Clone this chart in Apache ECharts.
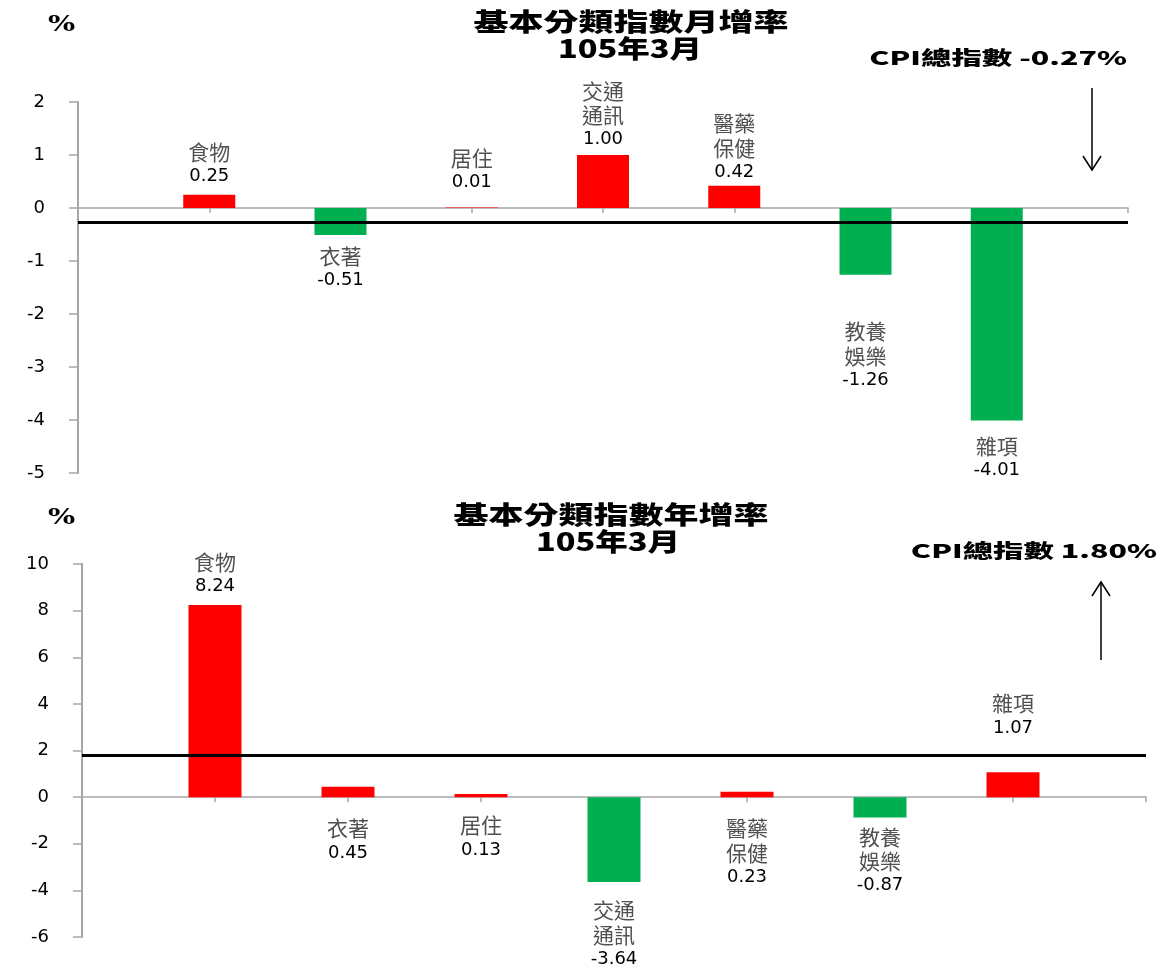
<!DOCTYPE html>
<html>
<head>
<meta charset="utf-8">
<script src="https://cdn.jsdelivr.net/npm/echarts@6/dist/echarts.min.js"></script>
<style>
html,body{margin:0;padding:0;background:#fff;}
#chart{width:1160px;height:968px;}
</style>
</head>
<body>
<div id="chart"></div>
<script>
// ---- data ----
var categories = ['食物', '衣著', '居住', '交通通訊', '醫藥保健', '教養娛樂', '雜項'];
var labelNames = ['食物', '衣著', '居住', '交通\n通訊', '醫藥\n保健', '教養\n娛樂', '雜項'];
var monthlyValues = [0.25, -0.51, 0.01, 1.00, 0.42, -1.26, -4.01];
var yearlyValues = [8.24, 0.45, 0.13, -3.64, 0.23, -0.87, 1.07];
var cpiMonthly = -0.27;
var cpiYearly = 1.80;
var monthlyTicks = [-5, -4, -3, -2, -1, 0, 1, 2];
var yearlyTicks = [-6, -4, -2, 0, 2, 4, 6, 8, 10];
var titleMonthly = '基本分類指數月增率';
var titleYearly = '基本分類指數年增率';
var titlePeriod = '105年3月';
var unitText = '%';

// ---- label placement (style only) ----
var monthlyLabelPlace = [['top', 6], ['bottom', 9], ['top', 13], ['top', 3], ['top', 1], ['bottom', 44], ['bottom', 13]];
var yearlyLabelPlace = [['top', 6], ['bottom', 19], ['bottom', 16], ['bottom', 16], ['bottom', 19], ['bottom', 7], ['top', 32]];

var RED = '#FF0000', GREEN = '#00B050';
var NUMFONT = '"DejaVu Sans", Verdana, sans-serif';
var CJKFONT = '"Noto Sans CJK TC", sans-serif';
var axisCats = [''].concat(categories).concat(['']);

function fmt(v) { return (v < 0 ? '-' : '') + Math.abs(v).toFixed(2); }

function buildData(values, place) {
  var out = [null];
  values.forEach(function (v, i) {
    var nm = labelNames[i].split('\n').map(function (s) { return '{n|' + s + '}'; }).join('\n');
    out.push({
      value: v,
      itemStyle: { color: v >= 0 ? RED : GREEN },
      label: {
        show: true,
        position: place[i][0],
        distance: place[i][1],
        formatter: nm + '\n{v|' + fmt(v) + '}'
      }
    });
  });
  out.push(null);
  return out;
}

var richLabel = {
  n: { fontFamily: CJKFONT, fontSize: 21, color: '#505050', lineHeight: 24.5 },
  v: { fontFamily: NUMFONT, fontSize: 18, color: '#000', lineHeight: 24.5 }
};

function xAxisCfg(gi) {
  return {
    type: 'category', gridIndex: gi, data: axisCats, boundaryGap: false,
    axisLine: { lineStyle: { color: '#a6a6a6', width: 1.5 } },
    axisTick: { show: true, length: 5, lineStyle: { color: '#a6a6a6', width: 1.5 } },
    axisLabel: { show: false }, splitLine: { show: false }
  };
}
function yAxisCfg(gi, ticks, interval) {
  return {
    type: 'value', gridIndex: gi, min: ticks[0], max: ticks[ticks.length - 1], interval: interval,
    axisLine: { show: true, onZero: false, lineStyle: { color: '#a6a6a6', width: 2 } },
    axisTick: { show: true, length: 9, lineStyle: { color: '#a6a6a6', width: 1.5 } },
    axisLabel: { fontFamily: NUMFONT, fontSize: 18, color: '#000', margin: 33 },
    splitLine: { show: false }
  };
}

function scaledText(text, x, y, align, size, sx, family) {
  return {
    type: 'text', x: x, y: y, scaleX: sx, scaleY: 1, silent: true,
    style: {
      text: text, x: 0, y: 0, align: align, verticalAlign: 'middle',
      fontFamily: family || CJKFONT, fontSize: size, fontWeight: 900, fill: '#000'
    }
  };
}

var chart = echarts.init(document.getElementById('chart'));
chart.setOption({
  animation: false,
  backgroundColor: '#fff',
  grid: [
    { left: 78, right: 32, top: 102, height: 371 },
    { left: 82, right: 14, top: 564, height: 373 }
  ],
  xAxis: [xAxisCfg(0), xAxisCfg(1)],
  yAxis: [yAxisCfg(0, monthlyTicks, 1), yAxisCfg(1, yearlyTicks, 2)],
  series: [
    {
      type: 'bar', xAxisIndex: 0, yAxisIndex: 0, barWidth: 52,
      data: buildData(monthlyValues, monthlyLabelPlace),
      label: { rich: richLabel },
      markLine: {
        silent: true, symbol: 'none', label: { show: false },
        lineStyle: { color: '#000', width: 3, type: 'solid' },
        data: [{ yAxis: cpiMonthly }]
      }
    },
    {
      type: 'bar', xAxisIndex: 1, yAxisIndex: 1, barWidth: 53,
      data: buildData(yearlyValues, yearlyLabelPlace),
      label: { rich: richLabel },
      markLine: {
        silent: true, symbol: 'none', label: { show: false },
        lineStyle: { color: '#000', width: 3, type: 'solid' },
        data: [{ yAxis: cpiYearly }]
      }
    }
  ],
  graphic: [
    scaledText(titleMonthly, 631, 21, 'center', 25, 1.4),
    scaledText(titlePeriod, 630, 48, 'center', 25, 1.3),
    scaledText(titleYearly, 611, 514, 'center', 25, 1.4),
    scaledText(titlePeriod, 608, 541, 'center', 25, 1.3),
    scaledText(unitText, 48, 25, 'left', 22, 1.3, '"DejaVu Serif", serif'),
    scaledText(unitText, 48, 518, 'left', 22, 1.3, '"DejaVu Serif", serif'),
    scaledText('CPI總指數 ' + fmt(cpiMonthly) + '%', 1127, 58, 'right', 19, 1.6),
    scaledText('CPI總指數 ' + cpiYearly.toFixed(2) + '%', 1157, 551, 'right', 19, 1.6),
    { type: 'line', silent: true, shape: { x1: 1092, y1: 88, x2: 1092, y2: 170 }, style: { stroke: '#000', lineWidth: 1.5 } },
    { type: 'polyline', silent: true, shape: { points: [[1083, 156], [1092, 170], [1101, 156]] }, style: { stroke: '#000', lineWidth: 1.5, fill: null } },
    { type: 'line', silent: true, shape: { x1: 1101, y1: 660, x2: 1101, y2: 582 }, style: { stroke: '#000', lineWidth: 1.5 } },
    { type: 'polyline', silent: true, shape: { points: [[1092, 596], [1101, 582], [1110, 596]] }, style: { stroke: '#000', lineWidth: 1.5, fill: null } }
  ]
});
</script>
</body>
</html>
